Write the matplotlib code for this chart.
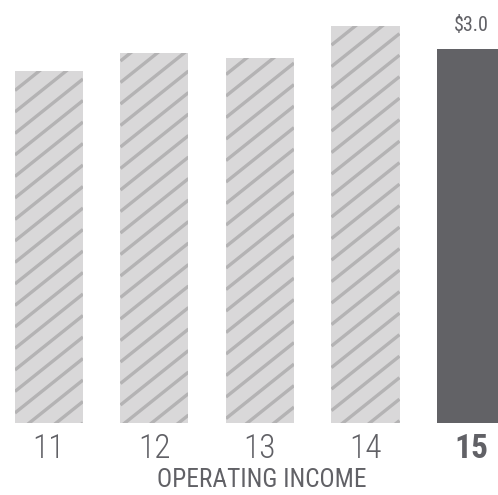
import matplotlib
matplotlib.use("Agg")
import matplotlib.pyplot as plt

years = ["11", "12", "13", "14", "15"]
income = [2.82, 2.97, 2.93, 3.18, 3.0]
value_label = "$3.0"
x_title = "OPERATING INCOME"

plt.rcParams['font.family'] = ['Roboto Condensed', 'Open Sans']

text_col = '#616166'
light = '#d9d8d9'
dark = '#626266'
hatch_col = '#b4b3b4'

W, H, DPI = 498, 495, 120
fig = plt.figure(figsize=(W / DPI, H / DPI), dpi=DPI)
ax = fig.add_axes([0, 72 / H, 1, 423 / H])
xmin, xmax = -0.464, 4.256
ymax = 423 / 124.7
ax.set_xlim(xmin, xmax)
ax.set_ylim(0, ymax)

# px per data unit, used to build the diagonal stripes
px_x = W / (xmax - xmin)
px_y = 423 / ymax
slope = 0.8 * px_x / px_y       # data units
gap = 21.5 / px_y                # vertical spacing in data units

xs = list(range(len(years)))
for i, v in enumerate(income):
    if i < len(income) - 1:
        bars = ax.bar(i, v, width=0.645, color=light, linewidth=0)
        rect = bars[0]
        x0, x1 = rect.get_x(), rect.get_x() + rect.get_width()
        c = -slope * (x1 - x0) + (i * 0.37 % 1) * gap
        while c < v:
            ln, = ax.plot([x0, x1], [c, c + slope * (x1 - x0)], color=hatch_col,
                          lw=2.0, solid_capstyle='butt')
            ln.set_clip_path(rect)
            c += gap
    else:
        ax.bar(i, v, width=0.645, color=dark, linewidth=0)

ax.text(xs[-1], income[-1] + 0.11, value_label, ha='center', va='bottom',
        fontsize=12, color=text_col)

ax.set_xticks(xs)
ax.set_xticklabels(years)
for i, lab in enumerate(ax.get_xticklabels()):
    lab.set_fontsize(20)
    lab.set_color(text_col)
    lab.set_fontweight('bold' if i == len(years) - 1 else 'light')
ax.tick_params(axis='x', length=0, pad=6)
ax.set_yticks([])
ax.set_xlabel(x_title, fontsize=15.2, color=text_col)
ax.xaxis.set_label_coords(262 / W, -0.107)
for s in ax.spines.values():
    s.set_visible(False)

fig.savefig("out.png", dpi=DPI)
